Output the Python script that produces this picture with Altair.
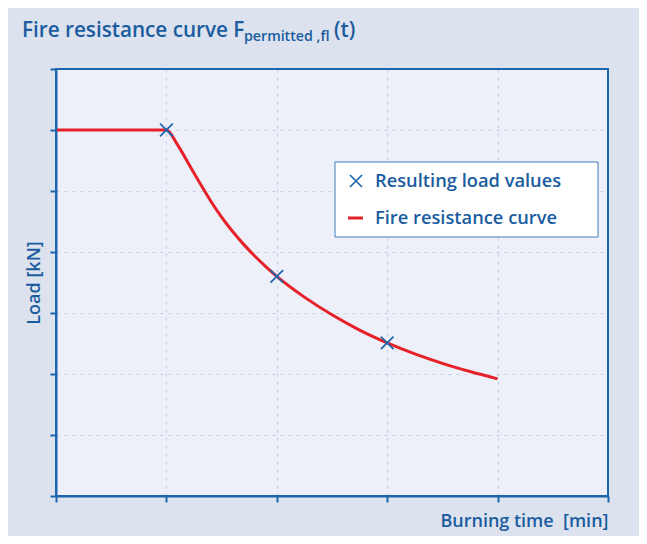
import altair as alt
import pandas as pd

# ---- data ----
curve_time = [0, 1.0, 1.1, 1.2, 1.3, 1.4, 1.5, 1.6, 1.7, 1.8, 1.9, 2.0,
              2.25, 2.5, 2.75, 3.0, 3.25, 3.5, 3.75, 4.0]
curve_load = [6.0, 6.0, 5.76, 5.45, 5.14, 4.84, 4.57, 4.335, 4.125, 3.935, 3.76, 3.60,
              3.26, 2.97, 2.72, 2.51, 2.33, 2.175, 2.04, 1.92]
point_time = [1, 2, 3]
point_load = [6.0, 3.6, 2.51]
x_ticks = [0, 1, 2, 3, 4, 5]
y_ticks = [0, 1, 2, 3, 4, 5, 6, 7]
legend_labels = ["Resulting load values", "Fire resistance curve"]

BLUE = "#1d65ad"
TEXT = "#1a5c9f"
RED = "#e62129"
GRID = "#c3cee3"
FONT = "Open Sans"
W = 600
XSHAPE = "M-1,-1L1,1M-1,1L1,-1"

curve_df = pd.DataFrame({"t": curve_time, "load": curve_load})
pts_df = pd.DataFrame({"t": point_time, "load": point_load})
one = pd.DataFrame({"k": [0]})

xscale = alt.Scale(domain=[0, 5], nice=False, zero=False)
yscale = alt.Scale(domain=[0, 7], nice=False)

x_axis = alt.Axis(values=x_ticks, labels=False, title="Burning time\u00a0\u00a0[min]",
                  titleAnchor="end", titleAlign="right", titlePadding=9,
                  grid=True)
y_axis = alt.Axis(values=y_ticks, labels=False, title="Load [kN]",
                  titlePadding=6, grid=True)

curve = alt.Chart(curve_df).mark_line(
    color=RED, strokeWidth=3, interpolate="monotone"
).encode(
    x=alt.X("t:Q", scale=xscale, axis=x_axis),
    y=alt.Y("load:Q", scale=yscale, axis=y_axis),
)

points = alt.Chart(pts_df).mark_point(
    shape=XSHAPE, filled=False, stroke=BLUE, strokeWidth=1.7, size=160, opacity=1
).encode(
    x=alt.X("t:Q", scale=xscale),
    y=alt.Y("load:Q", scale=yscale),
)

# plot frame
frame = alt.Chart(one).mark_rect(fillOpacity=0, stroke=BLUE, strokeWidth=2).encode(
    x=alt.value(0), x2=alt.value(552), y=alt.value(0), y2=alt.value(427)
)

# legend box
leg_box = alt.Chart(one).mark_rect(fill="white", stroke="#3f7fc0", strokeWidth=1).encode(
    x=alt.value(279), x2=alt.value(542), y=alt.value(93), y2=alt.value(168)
)
leg_x = alt.Chart(one).mark_point(
    shape=XSHAPE, filled=False, stroke=BLUE, strokeWidth=1.6, size=144, opacity=1
).encode(x=alt.value(300), y=alt.value(112))
leg_line = alt.Chart(one).mark_rule(color=RED, strokeWidth=3).encode(
    x=alt.value(292), x2=alt.value(307), y=alt.value(149)
)
leg_t1 = alt.Chart(one).mark_text(
    text=legend_labels[0], font=FONT, fontSize=18.3, fontWeight=W, color=TEXT,
    align="left", baseline="middle"
).encode(x=alt.value(319), y=alt.value(112.5))
leg_t2 = alt.Chart(one).mark_text(
    text=legend_labels[1], font=FONT, fontSize=18.3, fontWeight=W, color=TEXT,
    align="left", baseline="middle"
).encode(x=alt.value(319), y=alt.value(150))

# title with subscript
t_main = alt.Chart(one).mark_text(
    text="Fire resistance curve F", font=FONT, fontSize=20.7, fontWeight=W, color=TEXT,
    align="left", baseline="alphabetic"
).encode(x=alt.value(-34), y=alt.value(-32))
t_sub = alt.Chart(one).mark_text(
    text="permitted ,fl", font=FONT, fontSize=14.2, fontWeight=W, color=TEXT,
    align="left", baseline="alphabetic"
).encode(x=alt.value(188), y=alt.value(-28.5))
t_end = alt.Chart(one).mark_text(
    text="(t)", font=FONT, fontSize=20.7, fontWeight=W, color=TEXT,
    align="left", baseline="alphabetic"
).encode(x=alt.value(278), y=alt.value(-32))

chart = alt.layer(
    curve, points, frame, leg_box, leg_x, leg_line, leg_t1, leg_t2, t_main, t_sub, t_end
).properties(
    width=552, height=427,
    autosize=alt.AutoSizeParams(type="none"),
    padding={"left": 48, "top": 61, "right": 31, "bottom": 40},
    background="#dce2ee",
).configure_view(
    fill="#edf0f9", strokeWidth=0
).configure_axis(
    domainColor=BLUE, domainWidth=2,
    tickColor=BLUE, tickWidth=2, tickSize=6,
    gridColor=GRID, gridDash=[3, 5], gridWidth=1,
    titleFont=FONT, titleFontSize=18, titleFontWeight=W, titleColor=TEXT,
)

chart.save("out.html", embed_options={"renderer": "svg", "actions": False})
